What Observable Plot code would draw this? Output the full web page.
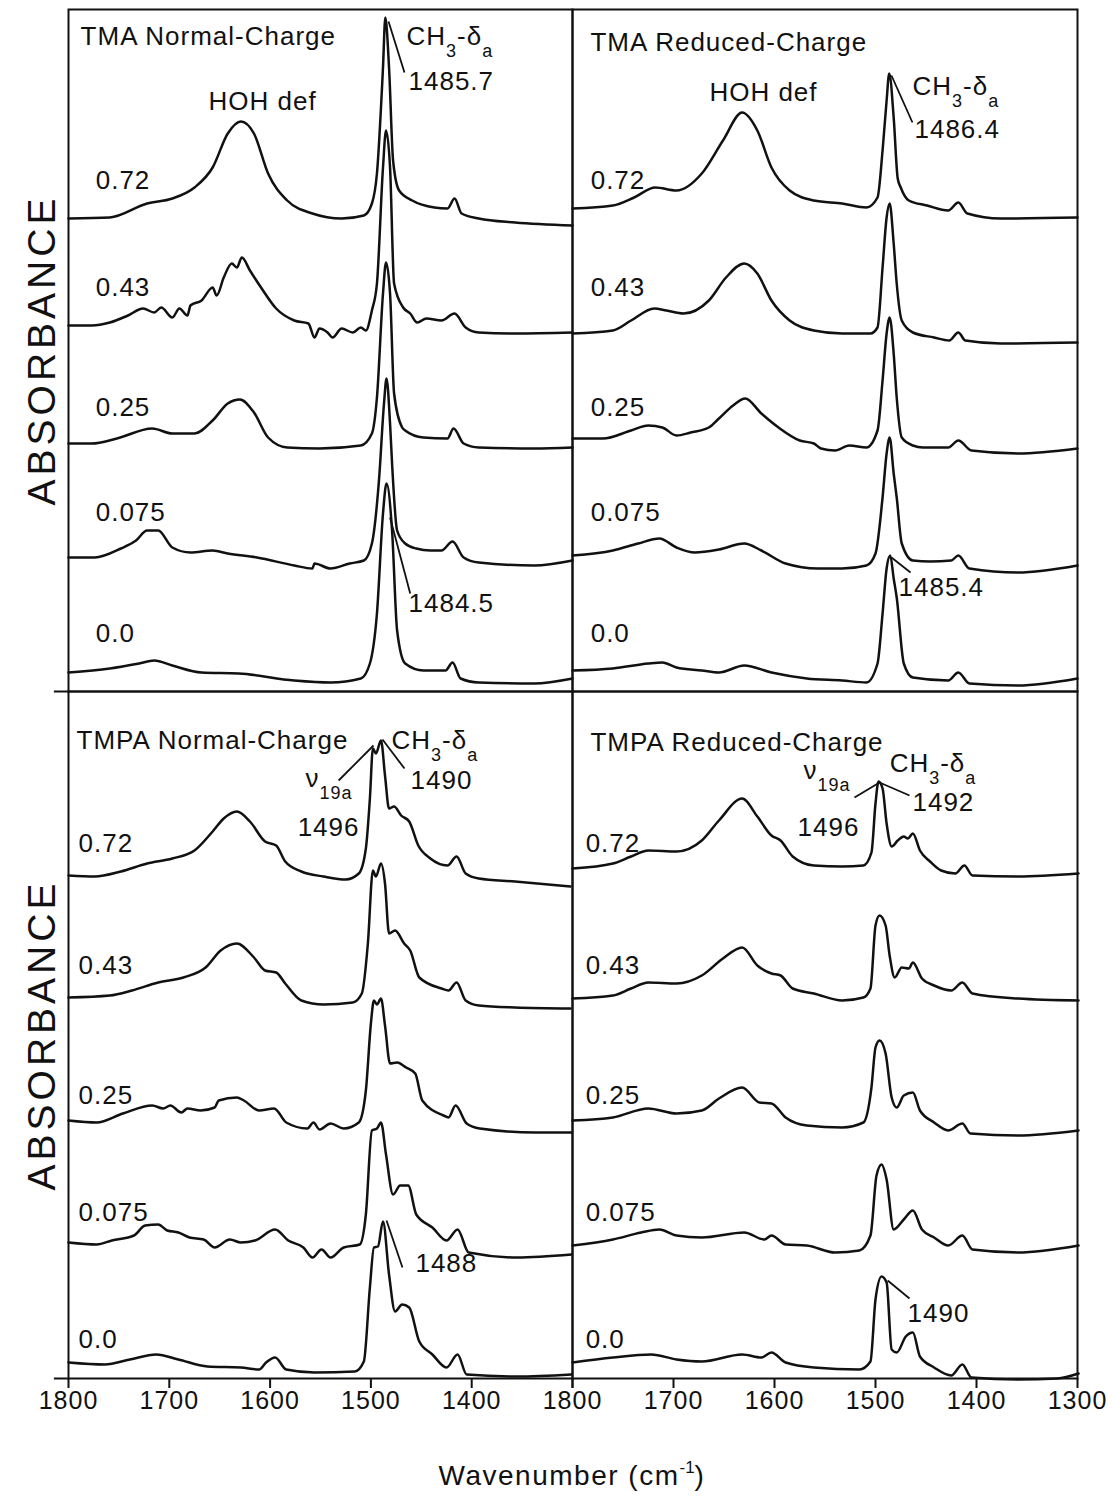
<!DOCTYPE html>
<html>
<head>
<meta charset="utf-8">
<script src="https://cdn.jsdelivr.net/npm/d3@7"></script>
<script src="https://cdn.jsdelivr.net/npm/@observablehq/plot@0.6"></script>
<style>
  body { margin: 0; background: #fff; }
  #fig { position: relative; width: 1112px; height: 1507px; overflow: hidden; background: #fff;
         font-family: "Liberation Sans", Arial, Helvetica, sans-serif; color: #111; }
  #fig svg { position: absolute; left: 0; top: 0; }
  #fig svg g[aria-label="x-axis tick"] path,
  #fig svg g[aria-label="x-axis"] .tick line { stroke-width: 2px; }
  .ylab { position: absolute; width: 420px; height: 46px; line-height: 46px; text-align: center;
          font-size: 39px; letter-spacing: 4px; transform: rotate(-90deg); transform-origin: 50% 50%; }
  .xlab { position: absolute; left: 372px; width: 400px; text-align: center; font-size: 28px; letter-spacing: 1.5px; }
  .xlab sup { font-size: 17px; letter-spacing: 0; position: relative; top: -2px; }
</style>
</head>
<body>
<div id="fig"></div>
<script>
// ---------------- data (wavenumber cm-1, stacked absorbance in offset units) ----------------
const loadings = ["0.72", "0.43", "0.25", "0.075", "0.0"];
const ticksLeft = [1800, 1700, 1600, 1500, 1400];
const ticksRight = [1800, 1700, 1600, 1500, 1400, 1300];

// TMA Normal-Charge
const tmaN072 = [[1800,4.65],[1759,4.66],[1722,4.8],[1697,4.85],[1675,4.96],[1657,5.16],[1642,5.5],[1629,5.62],[1616,5.5],[1602,5.1],[1583,4.83],[1558,4.7],[1529,4.65],[1507,4.68],[1499,4.8],[1494,5.1],[1488,6.16],[1485.7,6.66],[1482,6.16],[1478,5.23],[1472,4.93],[1459,4.83],[1437,4.76],[1424,4.75],[1417,4.85],[1410,4.7],[1393,4.65],[1357,4.61],[1300,4.58]];
const tmaN043 = [[1800,3.58],[1777,3.58],[1759,3.61],[1741,3.68],[1726,3.75],[1715,3.71],[1708,3.76],[1697,3.66],[1690,3.75],[1682,3.68],[1679,3.78],[1668,3.83],[1657,3.96],[1653,3.88],[1646,4.06],[1638,4.2],[1633,4.16],[1628,4.26],[1620,4.13],[1609,3.96],[1594,3.75],[1576,3.63],[1562,3.6],[1556,3.46],[1551,3.55],[1543,3.51],[1538,3.46],[1529,3.55],[1518,3.51],[1510,3.56],[1505,3.53],[1499,3.73],[1494,4.0],[1488,5.16],[1485,5.53],[1481,5.16],[1477,4.0],[1468,3.76],[1461,3.7],[1454,3.61],[1445,3.65],[1430,3.63],[1417,3.7],[1406,3.56],[1393,3.51],[1357,3.5],[1300,3.51]];
const tmaN025 = [[1800,2.4],[1777,2.4],[1752,2.45],[1717,2.55],[1697,2.5],[1675,2.5],[1657,2.63],[1642,2.8],[1630,2.84],[1616,2.71],[1602,2.46],[1583,2.36],[1551,2.35],[1510,2.38],[1499,2.5],[1494,2.86],[1488,3.9],[1485,4.21],[1481,3.9],[1477,2.9],[1469,2.56],[1466,2.53],[1448,2.46],[1424,2.45],[1418,2.55],[1408,2.4],[1393,2.36],[1338,2.35],[1300,2.36]];
const tmaN0075 = [[1800,1.26],[1774,1.26],[1748,1.35],[1733,1.43],[1722,1.53],[1711,1.53],[1697,1.36],[1679,1.31],[1657,1.33],[1642,1.3],[1613,1.26],[1576,1.18],[1558,1.15],[1556,1.2],[1540,1.15],[1521,1.2],[1507,1.23],[1499,1.4],[1492,2.03],[1487,2.8],[1484.5,3.05],[1481,2.6],[1479,2.2],[1474,1.53],[1466,1.4],[1455,1.35],[1441,1.33],[1430,1.33],[1419,1.42],[1408,1.26],[1393,1.21],[1338,1.18],[1300,1.23]];
const tmaN000 = [[1800,0.11],[1759,0.15],[1730,0.2],[1715,0.23],[1697,0.18],[1668,0.11],[1631,0.1],[1576,0.03],[1540,0.01],[1510,0.05],[1501,0.2],[1494,0.7],[1488,1.7],[1484.5,2.0],[1479,1.53],[1474,0.53],[1466,0.2],[1448,0.13],[1426,0.13],[1419,0.21],[1411,0.05],[1393,0.01],[1338,0.0],[1300,0.05]];

// TMA Reduced-Charge
const tmaR072 = [[1800,4.75],[1760,4.78],[1739,4.86],[1718,4.96],[1697,4.93],[1672,5.1],[1651,5.43],[1632,5.71],[1617,5.53],[1603,5.16],[1585,4.93],[1561,4.83],[1533,4.8],[1509,4.76],[1498,4.86],[1493,5.33],[1489,5.83],[1486.4,6.1],[1482,5.66],[1478,5.05],[1475,4.96],[1467,4.83],[1449,4.78],[1428,4.73],[1418,4.81],[1409,4.7],[1376,4.65],[1300,4.66]];
const tmaR043 = [[1800,3.5],[1760,3.53],[1742,3.63],[1719,3.75],[1707,3.73],[1690,3.7],[1665,3.83],[1648,4.06],[1630,4.2],[1617,4.1],[1603,3.83],[1585,3.63],[1561,3.53],[1533,3.5],[1505,3.5],[1498,3.56],[1493,4.16],[1489,4.66],[1486,4.8],[1482,4.4],[1479,4.0],[1474,3.63],[1463,3.51],[1442,3.46],[1427,3.43],[1418,3.51],[1411,3.43],[1376,3.4],[1300,3.41]];
const tmaR025 = [[1800,2.45],[1770,2.45],[1742,2.53],[1725,2.58],[1711,2.56],[1697,2.48],[1683,2.51],[1665,2.56],[1655,2.65],[1641,2.78],[1629,2.85],[1613,2.7],[1596,2.56],[1575,2.43],[1561,2.4],[1554,2.35],[1540,2.33],[1526,2.38],[1509,2.36],[1498,2.53],[1493,3.03],[1489,3.5],[1486,3.66],[1482,3.3],[1479,2.86],[1474,2.46],[1463,2.38],[1453,2.36],[1428,2.36],[1418,2.43],[1405,2.33],[1359,2.3],[1300,2.35]];
const tmaR0075 = [[1800,1.28],[1760,1.33],[1735,1.4],[1714,1.45],[1697,1.36],[1679,1.31],[1655,1.34],[1630,1.4],[1613,1.33],[1589,1.2],[1557,1.15],[1533,1.15],[1509,1.18],[1500,1.3],[1493,1.86],[1489,2.3],[1486,2.46],[1482,2.1],[1479,1.86],[1474,1.4],[1463,1.23],[1446,1.22],[1425,1.23],[1418,1.28],[1407,1.15],[1359,1.11],[1300,1.18]];
const tmaR000 = [[1800,0.13],[1760,0.15],[1725,0.2],[1711,0.21],[1697,0.16],[1672,0.13],[1655,0.11],[1630,0.18],[1603,0.11],[1568,0.05],[1533,0.03],[1509,0.01],[1498,0.2],[1493,0.7],[1489,1.15],[1485.4,1.28],[1482,1.05],[1479,0.86],[1472,0.2],[1463,0.06],[1428,0.03],[1418,0.11],[1407,0.0],[1359,-0.02],[1300,0.05]];

// TMPA Normal-Charge
const tmpaN072 = [[1800,5.03],[1774,5.02],[1748,5.07],[1722,5.15],[1697,5.2],[1675,5.28],[1657,5.47],[1646,5.6],[1633,5.67],[1620,5.57],[1605,5.37],[1594,5.33],[1585,5.17],[1569,5.07],[1547,5.02],[1525,4.99],[1512,5.05],[1505,5.3],[1501,5.8],[1498,6.3],[1495,6.25],[1490,6.38],[1486,6.03],[1482,5.7],[1477,5.72],[1470,5.63],[1462,5.57],[1453,5.33],[1441,5.2],[1424,5.13],[1415,5.22],[1406,5.05],[1393,5.0],[1357,4.97],[1302,4.92]];
const tmpaN043 = [[1800,3.81],[1759,3.83],[1737,3.88],[1711,3.96],[1686,4.01],[1664,4.11],[1649,4.28],[1633,4.35],[1616,4.21],[1605,4.08],[1594,4.06],[1585,3.95],[1569,3.78],[1547,3.74],[1518,3.76],[1509,3.85],[1503,4.35],[1498,5.08],[1495,5.02],[1490,5.15],[1486,4.95],[1482,4.45],[1476,4.48],[1467,4.35],[1461,4.28],[1452,4.01],[1430,3.9],[1423,3.88],[1415,3.96],[1406,3.78],[1393,3.73],[1357,3.71],[1302,3.7]];
const tmpaN025 = [[1800,2.58],[1772,2.56],[1746,2.65],[1717,2.73],[1706,2.7],[1699,2.73],[1688,2.66],[1682,2.7],[1669,2.68],[1655,2.71],[1651,2.78],[1633,2.81],[1626,2.78],[1611,2.68],[1596,2.7],[1584,2.56],[1563,2.5],[1557,2.56],[1551,2.49],[1540,2.55],[1527,2.5],[1512,2.56],[1505,2.88],[1500,3.55],[1497,3.78],[1494,3.74],[1490,3.8],[1486,3.53],[1481,3.15],[1474,3.16],[1465,3.11],[1456,3.05],[1449,2.78],[1428,2.63],[1423,2.61],[1416,2.73],[1405,2.55],[1392,2.5],[1337,2.46],[1301,2.46]];
const tmpaN0075 = [[1800,1.36],[1772,1.34],[1757,1.38],[1735,1.43],[1724,1.53],[1711,1.54],[1702,1.48],[1691,1.46],[1680,1.41],[1666,1.39],[1655,1.31],[1640,1.39],[1629,1.36],[1615,1.38],[1595,1.49],[1582,1.38],[1567,1.31],[1558,1.21],[1549,1.29],[1540,1.21],[1527,1.31],[1511,1.34],[1505,1.64],[1499,2.48],[1494,2.5],[1490,2.56],[1485,2.24],[1478,1.84],[1471,1.93],[1463,1.93],[1455,1.64],[1439,1.51],[1425,1.38],[1414,1.49],[1403,1.26],[1355,1.21],[1301,1.24]];
const tmpaN000 = [[1800,0.16],[1764,0.14],[1739,0.19],[1713,0.24],[1691,0.19],[1662,0.12],[1629,0.11],[1611,0.09],[1604,0.16],[1595,0.21],[1584,0.09],[1556,0.06],[1516,0.07],[1507,0.17],[1501,0.91],[1497,1.31],[1493,1.32],[1488,1.57],[1482,1.04],[1476,0.67],[1469,0.74],[1462,0.71],[1452,0.37],[1439,0.24],[1425,0.11],[1414,0.24],[1405,0.04],[1355,0.02],[1301,0.04]];

// TMPA Reduced-Charge
const tmpaR072 = [[1800,5.1],[1760,5.15],[1742,5.22],[1725,5.28],[1697,5.27],[1672,5.38],[1655,5.58],[1632,5.8],[1617,5.62],[1603,5.43],[1594,5.38],[1582,5.22],[1561,5.13],[1533,5.12],[1512,5.13],[1504,5.26],[1500,5.75],[1497,5.97],[1493,5.9],[1489,5.55],[1484,5.32],[1478,5.38],[1472,5.42],[1468,5.4],[1463,5.45],[1456,5.28],[1446,5.17],[1435,5.08],[1421,5.05],[1412,5.13],[1404,5.03],[1359,5.02],[1299,5.05]];
const tmpaR043 = [[1800,3.8],[1760,3.83],[1742,3.9],[1725,3.96],[1697,3.95],[1672,4.03],[1651,4.2],[1632,4.31],[1617,4.13],[1603,4.05],[1594,4.03],[1582,3.9],[1561,3.85],[1533,3.78],[1512,3.81],[1505,3.9],[1500,4.53],[1496,4.63],[1490,4.53],[1486,4.23],[1481,4.01],[1474,4.11],[1467,4.1],[1463,4.16],[1454,4.0],[1442,3.93],[1425,3.88],[1414,3.96],[1404,3.85],[1359,3.8],[1299,3.78]];
const tmpaR025 = [[1800,2.58],[1760,2.61],[1725,2.7],[1697,2.65],[1672,2.68],[1655,2.8],[1632,2.91],[1615,2.76],[1603,2.75],[1589,2.61],[1568,2.53],[1533,2.51],[1512,2.56],[1504,2.91],[1500,3.31],[1496,3.38],[1490,3.25],[1484,2.81],[1479,2.71],[1472,2.83],[1463,2.86],[1456,2.68],[1442,2.56],[1428,2.48],[1414,2.55],[1406,2.45],[1359,2.43],[1299,2.48]];
const tmpaR0075 = [[1800,1.33],[1760,1.39],[1732,1.46],[1714,1.49],[1697,1.43],[1672,1.41],[1630,1.46],[1610,1.39],[1603,1.43],[1589,1.34],[1568,1.33],[1540,1.26],[1516,1.28],[1505,1.43],[1499,2.03],[1494,2.14],[1489,1.99],[1482,1.49],[1472,1.59],[1463,1.68],[1454,1.49],[1442,1.41],[1428,1.33],[1414,1.43],[1404,1.29],[1359,1.26],[1299,1.33]];
const tmpaR000 = [[1800,0.16],[1760,0.21],[1722,0.24],[1697,0.19],[1672,0.17],[1632,0.24],[1613,0.21],[1603,0.26],[1589,0.16],[1561,0.11],[1516,0.09],[1505,0.17],[1500,0.79],[1494,1.02],[1489,0.96],[1484,0.29],[1479,0.26],[1470,0.42],[1463,0.46],[1456,0.22],[1442,0.11],[1425,0.03],[1414,0.14],[1405,0.01],[1359,-0.01],[1320,0.0],[1299,0.05]];

// curve-label heights (same order as loadings)
const labelVTop = [5.03, 3.96, 2.76, 1.71, 0.5];
const labelVBottom = [5.35, 4.13, 2.83, 1.66, 0.39];

// ---------------- rendering ----------------
const FONT = '"Liberation Sans", Arial, Helvetica, sans-serif';
const INK = "#111";
const LS = 1;             // letter spacing used for in-panel text
const MAIN = 26, SUB = 18, SUBDY = 15;
const W = 1112, H = 1507;
const ctx = document.createElement("canvas").getContext("2d");
function textWidth(t, size) { ctx.font = `${size}px ${FONT}`; return ctx.measureText(t).width + LS * t.length; }

function richText(parts, pos) {
  const widths = parts.map(([t, sub]) => textWidth(t, sub ? SUB : MAIN));
  let off = 0;
  return parts.map(([t, sub], i) => {
    const m = Plot.text([pos], {x: "wn", y: "v", text: () => t, textAnchor: "start",
      dx: off, dy: sub ? SUBDY : 0, fontSize: sub ? SUB : MAIN, fill: INK});
    off += widths[i];
    return m;
  });
}
const CH3 = [["CH", false], ["3", true], ["-δ", false], ["a", true]];
const NU19A = [["ν", false], ["19a", true]];

function panel(cfg) {
  const rows = cfg.series.flatMap((arr, i) => arr.map(([wn, v]) => ({series: loadings[i], wn, v})));
  const textMarks = Array.from(d3.group(cfg.texts, d => d.anchor), ([anchor, arr]) =>
    Plot.text(arr, {x: "wn", y: "v", text: "text", textAnchor: anchor, fontSize: MAIN, fill: INK}));
  const marks = [
    Plot.frame({stroke: INK, strokeWidth: 2}),
    Plot.line(rows, {x: "wn", y: "v", z: "series", curve: "monotone-x", stroke: INK, strokeWidth: 2.5}),
    Plot.text(loadings.map((t, i) => ({t, wn: cfg.labelWn, v: cfg.labelV[i]})),
      {x: "wn", y: "v", text: "t", textAnchor: "start", fontSize: MAIN, fill: INK}),
    ...textMarks,
    Plot.link(cfg.leaders, {x1: d => d[0], y1: d => d[1], x2: d => d[2], y2: d => d[3], stroke: INK, strokeWidth: 1.8}),
    ...cfg.rich.flatMap(r => richText(r.parts, r)),
    ...(cfg.extend !== undefined ? [Plot.ruleY([cfg.extend], {x1: 1814, x2: 1800, stroke: INK, strokeWidth: 2})] : [])
  ];
  const xOpts = cfg.axis
    ? {domain: [1800, 1300], axis: "bottom", ticks: 5, tickSize: 10, tickPadding: 3, label: null,
       tickFormat: d => (cfg.hide1300 && d === 1300) ? "" : String(d)}
    : {domain: [1800, 1300], axis: null};
  return Plot.plot({
    width: W, height: H,
    marginLeft: cfg.l, marginRight: W - cfg.r, marginTop: cfg.t, marginBottom: H - cfg.b,
    x: xOpts,
    y: {domain: cfg.yDomain, axis: null},
    style: {background: "none", overflow: "visible", fontFamily: FONT, fontSize: "25px", letterSpacing: LS + "px", color: INK},
    marks
  });
}

const L = 68, M = 572, R = 1077, T = 9, D = 691, B = 1378;
const topY = [(683 - D) / 100, (683 - T) / 100];
const botY = [(1378 - B) / 100, (1378 - D) / 100];

const cfgs = [
  { l: L, r: M, t: T, b: D, yDomain: topY, axis: false, extend: topY[0],
    series: [tmaN072, tmaN043, tmaN025, tmaN0075, tmaN000], labelWn: 1773, labelV: labelVTop,
    texts: [{text: "TMA Normal-Charge", wn: 1788, v: 6.47, anchor: "start"},
            {text: "HOH def", wn: 1607.5, v: 5.82, anchor: "middle"},
            {text: "1485.7", wn: 1462.7, v: 6.02, anchor: "start"},
            {text: "1484.5", wn: 1462.7, v: 0.8, anchor: "start"}],
    leaders: [[1482.5, 6.62, 1466.7, 6.11], [1481, 1.66, 1461, 0.9]],
    rich: [{parts: CH3, wn: 1464.7, v: 6.47}] },
  { l: M, r: R, t: T, b: D, yDomain: topY, axis: false,
    series: [tmaR072, tmaR043, tmaR025, tmaR0075, tmaR000], labelWn: 1782, labelV: labelVTop,
    texts: [{text: "TMA Reduced-Charge", wn: 1782.2, v: 6.41, anchor: "start"},
            {text: "HOH def", wn: 1610.9, v: 5.91, anchor: "middle"},
            {text: "1486.4", wn: 1461.4, v: 5.54, anchor: "start"},
            {text: "1485.4", wn: 1477.2, v: 0.96, anchor: "start"}],
    leaders: [[1484.2, 6.08, 1463.4, 5.61], [1484.2, 1.26, 1465.3, 1.11]],
    rich: [{parts: CH3, wn: 1463.4, v: 5.97}] },
  { l: L, r: M, t: D, b: B, yDomain: botY, axis: true, hide1300: true, extend: botY[0],
    series: [tmpaN072, tmpaN043, tmpaN025, tmpaN0075, tmpaN000], labelWn: 1790, labelV: labelVBottom,
    texts: [{text: "TMPA Normal-Charge", wn: 1792, v: 6.38, anchor: "start"},
            {text: "1490", wn: 1460.7, v: 5.98, anchor: "start"},
            {text: "1496", wn: 1542, v: 5.51, anchor: "middle"},
            {text: "1488", wn: 1455.8, v: 1.15, anchor: "start"}],
    leaders: [[1488.5, 6.39, 1466.7, 6.1], [1532, 5.98, 1497.4, 6.33], [1484.5, 1.58, 1468.7, 1.11]],
    rich: [{parts: CH3, wn: 1479.6, v: 6.38}, {parts: NU19A, wn: 1565, v: 6.0}] },
  { l: M, r: R, t: D, b: B, yDomain: botY, axis: true, hide1300: false,
    series: [tmpaR072, tmpaR043, tmpaR025, tmpaR0075, tmpaR000], labelWn: 1787, labelV: labelVBottom,
    texts: [{text: "TMPA Reduced-Charge", wn: 1782.2, v: 6.36, anchor: "start"},
            {text: "1492", wn: 1463.4, v: 5.76, anchor: "start"},
            {text: "1496", wn: 1546.5, v: 5.51, anchor: "middle"},
            {text: "1490", wn: 1468.3, v: 0.65, anchor: "start"}],
    leaders: [[1520.8, 5.81, 1496, 5.96], [1496, 5.96, 1466.3, 5.83], [1488, 0.98, 1466.3, 0.8]],
    rich: [{parts: CH3, wn: 1486, v: 6.15}, {parts: NU19A, wn: 1571.3, v: 6.08}] }
];

const fig = document.getElementById("fig");
for (const c of cfgs) fig.appendChild(panel(c));

function addYLabel(cy) {
  const d = document.createElement("div");
  d.className = "ylab";
  d.textContent = "ABSORBANCE";
  d.style.left = (42 - 210) + "px";
  d.style.top = (cy - 23) + "px";
  fig.appendChild(d);
}
addYLabel((T + D) / 2);
addYLabel((D + B) / 2);

const xl = document.createElement("div");
xl.className = "xlab";
xl.style.top = "1460px";
xl.innerHTML = "Wavenumber (cm<sup>-1</sup>)";
fig.appendChild(xl);
</script>
</body>
</html>
